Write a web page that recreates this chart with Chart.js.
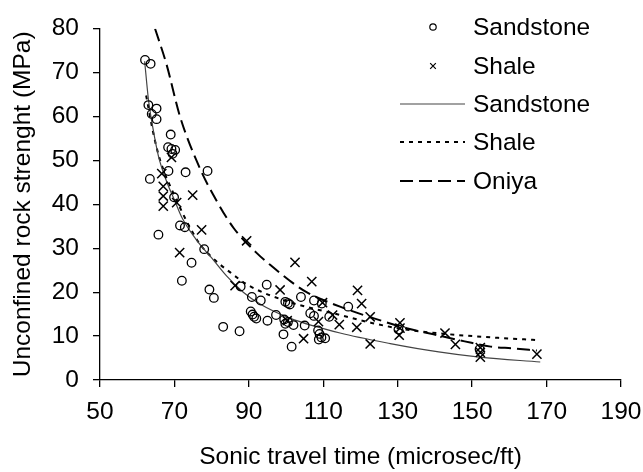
<!DOCTYPE html>
<html>
<head>
<meta charset="utf-8">
<script src="https://cdn.jsdelivr.net/npm/chart.js@4"></script>
<style>
  html, body { margin: 0; padding: 0; background: #fff; }
  #wrap { width: 643px; height: 472px; }
</style>
</head>
<body>
<div id="wrap"><canvas id="ucsChart" width="643" height="472"></canvas></div>
<script>
Chart.defaults.font.family = "'Liberation Sans', Arial, sans-serif";
Chart.defaults.color = '#000';

// measured points
const sandstoneX = [62.1, 63.6, 63, 65.2, 63.9, 65.2, 69, 68.3, 69.2, 70.2, 69.5, 68.4, 73, 78.9, 63.4, 69.9, 71.5, 72.8, 65.7, 78, 74.6, 72, 79.4, 80.6, 87.8, 90.8, 93.2, 94.8, 83.1, 87.5, 90.5, 91.4, 91, 92, 95, 97.3, 99.5, 100.5, 99.8, 102, 100.5, 99.8, 101, 104, 105, 99.3, 101.5, 107.5, 106.5, 107.5, 108.6, 109, 109.5, 110.5, 108.8, 111.6, 109.6, 116.7, 130.2, 152];
const sandstoneY = [72.9, 72, 62.6, 61.8, 60.6, 59.4, 55.9, 53, 52.6, 52.4, 51.5, 47.6, 47.3, 47.6, 45.8, 41.6, 35.2, 34.8, 33.1, 29.8, 26.7, 22.6, 20.6, 18.7, 21.3, 18.9, 18.1, 21.7, 12.1, 11.1, 15.6, 14.4, 14.9, 14, 13.5, 14.8, 13.8, 13.2, 12.8, 12.5, 17.5, 17.8, 17.2, 18.9, 12.4, 10.4, 7.6, 18.1, 15.2, 14.6, 11.3, 10.5, 9.7, 9.5, 9.2, 14.4, 17.4, 16.7, 11.5, 7];

const shaleX = [69.2, 66.6, 67, 67, 67, 70.6, 74.9, 77.3, 71.4, 86.3, 89.4, 98.4, 102.4, 106.9, 100.3, 104.7, 108.7, 109.8, 112.5, 114.3, 119.2, 120.3, 122.6, 119, 122.6, 130.6, 130.6, 130.4, 142.7, 145.5, 152.2, 152.2, 152.2, 167.4];
const shaleY = [50.7, 47, 44.1, 41.9, 39.6, 40.4, 42.1, 34.2, 29, 21.5, 31.7, 20.5, 26.8, 22.4, 13.5, 9.4, 13.3, 17.6, 14.8, 12.6, 20.4, 17.4, 14.4, 12, 8.2, 13, 11.8, 10.2, 10.7, 8.1, 7.4, 6.3, 5.2, 5.9];

// fitted curves
const sandstoneFitX = [62, 63, 64.3, 65.7, 67.9, 70, 72, 76, 80, 84, 88.5, 93, 101, 114.5, 128, 141, 152, 168.3];
const sandstoneFitY = [72.6, 64, 57, 51, 45.2, 41, 37, 31.8, 27.8, 23.7, 20, 17.3, 14.1, 10.7, 8.3, 6.4, 5.2, 4.1];

const shaleFitX = [62.4, 64.3, 66, 70, 76.4, 80, 85, 90, 100, 114.5, 123, 132, 144, 157, 167.4];
const shaleFitY = [64.8, 56.3, 50.5, 42, 31.5, 28, 24.5, 21.5, 18, 14.8, 13, 11.5, 10.4, 9.6, 9.1];

const oniyaX = [64.8, 67.9, 71.5, 76.9, 81.4, 86, 92, 96.6, 101, 105.5, 114.5, 123.4, 132.4, 139.6, 148, 155, 161, 167.4];
const oniyaY = [80, 71.8, 60, 48.1, 40.7, 34.5, 29, 25.6, 22.6, 20, 16.7, 14.1, 11.8, 10.4, 8.8, 7.6, 7.2, 6.7];

const xTicks = [50, 70, 90, 110, 130, 150, 170, 190];
const yTicks = [0, 10, 20, 30, 40, 50, 60, 70, 80];

const toPts = (xs, ys) => xs.map((x, i) => ({x: x, y: ys[i]}));

const fontMain = {size: 24.5};

// legend drawn by hand, top right inside the plot
const sideLegend = {
  id: 'sideLegend',
  afterDraw(chart) {
    const ctx = chart.ctx;
    const x0 = 400, x1 = 465, tx = 473;
    const rows = [27, 66, 104, 142, 181];
    ctx.save();
    ctx.font = "24.5px 'Liberation Sans', Arial, sans-serif";
    ctx.textBaseline = 'middle';
    chart.data.datasets.forEach((ds, i) => {
      const y = rows[i];
      ctx.strokeStyle = ds.borderColor;
      if (ds.showLine) {
        ctx.lineWidth = ds.borderWidth;
        ctx.setLineDash(ds.borderDash || []);
        ctx.beginPath();
        ctx.moveTo(x0, y);
        ctx.lineTo(x1, y);
        ctx.stroke();
        ctx.setLineDash([]);
      } else {
        ctx.fillStyle = 'rgba(0,0,0,0)';
        ctx.lineWidth = 1.2;
        Chart.helpers.drawPoint(ctx, {
          pointStyle: ds.pointStyle, radius: ds.pointStyle === 'circle' ? 3.2 : 4,
          borderWidth: 1.2, rotation: 0
        }, 433, y);
      }
      ctx.fillStyle = '#000';
      ctx.fillText(ds.label, tx, y + 1);
    });
    ctx.restore();
  }
};

new Chart(document.getElementById('ucsChart'), {
  type: 'scatter',
  data: {
    datasets: [
      {
        label: 'Sandstone',
        data: toPts(sandstoneX, sandstoneY),
        pointStyle: 'circle',
        pointRadius: 4.3,
        borderColor: '#000',
        backgroundColor: 'rgba(0,0,0,0)',
        borderWidth: 1.3
      },
      {
        label: 'Shale',
        data: toPts(shaleX, shaleY),
        pointStyle: 'crossRot',
        pointRadius: 6.5,
        borderColor: '#000',
        backgroundColor: '#000',
        borderWidth: 1.5
      },
      {
        label: 'Sandstone',
        data: toPts(sandstoneFitX, sandstoneFitY),
        showLine: true,
        pointRadius: 0,
        borderColor: '#444',
        borderWidth: 1.2,
        cubicInterpolationMode: 'monotone'
      },
      {
        label: 'Shale',
        data: toPts(shaleFitX, shaleFitY),
        showLine: true,
        pointRadius: 0,
        borderColor: '#000',
        borderWidth: 2,
        borderDash: [4, 5],
        cubicInterpolationMode: 'monotone'
      },
      {
        label: 'Oniya',
        data: toPts(oniyaX, oniyaY),
        showLine: true,
        pointRadius: 0,
        borderColor: '#000',
        borderWidth: 2,
        borderDash: [13, 6],
        cubicInterpolationMode: 'monotone'
      }
    ]
  },
  options: {
    responsive: false,
    animation: false,
    layout: {padding: {top: 20, right: 22, left: 0, bottom: 0}},
    plugins: {
      legend: {display: false},
      tooltip: {enabled: false}
    },
    scales: {
      x: {
        type: 'linear',
        min: 50,
        max: 190,
        afterFit(scale) {
          scale.height = 92;
          scale.paddingLeft = 0;
          scale.paddingRight = 20;
        },
        afterBuildTicks(scale) { scale.ticks = xTicks.map(v => ({value: v})); },
        ticks: {font: fontMain, padding: 11, color: '#000'},
        grid: {display: true, drawOnChartArea: false, drawTicks: true, tickLength: 7, color: '#000', lineWidth: 1.3},
        border: {display: true, color: '#000', width: 1.3},
        title: {display: true, text: 'Sonic travel time (microsec/ft)', font: fontMain, padding: {top: 4, bottom: 0}, color: '#000'}
      },
      y: {
        type: 'linear',
        min: 0,
        max: 80,
        afterFit(scale) { scale.width = 100; },
        afterBuildTicks(scale) { scale.ticks = yTicks.map(v => ({value: v})); },
        ticks: {font: fontMain, padding: 14, color: '#000'},
        grid: {display: true, drawOnChartArea: false, drawTicks: true, tickLength: 7, color: '#000', lineWidth: 1.3},
        border: {display: true, color: '#000', width: 1.3},
        title: {display: true, text: 'Unconfined rock strenght (MPa)', font: fontMain, padding: {top: 9, bottom: 4}, color: '#000'}
      }
    }
  },
  plugins: [sideLegend]
});
</script>
</body>
</html>
